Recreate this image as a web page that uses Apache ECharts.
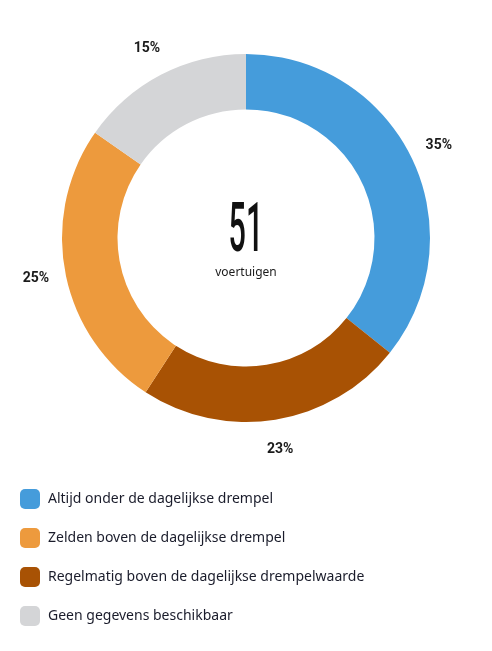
<!DOCTYPE html>
<html>
<head>
<meta charset="utf-8">
<script src="https://cdn.jsdelivr.net/npm/echarts@6/dist/echarts.min.js"></script>
<style>
  html, body { margin: 0; padding: 0; background: #ffffff; }
  #chart { width: 492px; height: 651px; }
</style>
</head>
<body>
<div id="chart"></div>
<script>
const categories = [
  'Altijd onder de dagelijkse drempel',
  'Regelmatig boven de dagelijkse drempelwaarde',
  'Zelden boven de dagelijkse drempel',
  'Geen gegevens beschikbaar'
];
const percentages = [35, 23, 25, 15];
const sliceColors = ['#459cdb', '#a85204', '#ed9a3d', '#d4d5d7'];
const legendOrder = [
  'Altijd onder de dagelijkse drempel',
  'Zelden boven de dagelijkse drempel',
  'Regelmatig boven de dagelijkse drempelwaarde',
  'Geen gegevens beschikbaar'
];
const totalVehicles = 51;
const totalUnit = 'voertuigen';

const pieData = categories.map((name, i) => ({
  name: name,
  value: percentages[i],
  itemStyle: { color: sliceColors[i] }
}));
const labelData = categories.map((name, i) => ({
  name: name,
  value: percentages[i]
}));

const chart = echarts.init(document.getElementById('chart'), null, { renderer: 'canvas' });
chart.setOption({
  animation: false,
  backgroundColor: '#ffffff',
  legend: {
    data: legendOrder,
    orient: 'vertical',
    left: 15,
    top: 484,
    itemWidth: 20,
    itemHeight: 20,
    itemGap: 19,
    icon: 'roundRect',
    selectedMode: false,
    textStyle: {
      fontFamily: 'Noto Sans',
      fontSize: 14,
      color: '#1a1c2b',
      padding: [0, 0, 0, 3]
    }
  },
  series: [
    {
      type: 'pie',
      center: [246, 238],
      radius: [128.5, 184],
      startAngle: 90,
      clockwise: true,
      silent: true,
      label: { show: false },
      labelLine: { show: false },
      data: pieData
    },
    {
      type: 'pie',
      center: [246, 238],
      radius: [195, 227],
      startAngle: 90,
      clockwise: true,
      silent: true,
      itemStyle: { color: 'rgba(0,0,0,0)' },
      label: {
        show: true,
        position: 'inside',
        formatter: p => p.value + '%',
        fontFamily: 'Roboto',
        fontWeight: 'bold',
        fontSize: 14,
        color: '#1b1b1b'
      },
      labelLine: { show: false },
      data: labelData
    }
  ],
  graphic: [
    {
      type: 'text',
      x: 246,
      y: 234,
      scaleX: 0.45,
      silent: true,
      style: {
        text: String(totalVehicles),
        fontFamily: 'Roboto',
        fontWeight: 500,
        fontSize: 68,
        fill: '#111111',
        textAlign: 'center',
        textVerticalAlign: 'middle'
      }
    },
    {
      type: 'text',
      x: 246,
      y: 273,
      silent: true,
      style: {
        text: totalUnit,
        fontFamily: 'Noto Sans',
        fontSize: 12,
        fill: '#1b1b1b',
        textAlign: 'center',
        textVerticalAlign: 'middle'
      }
    }
  ]
});
</script>
</body>
</html>
